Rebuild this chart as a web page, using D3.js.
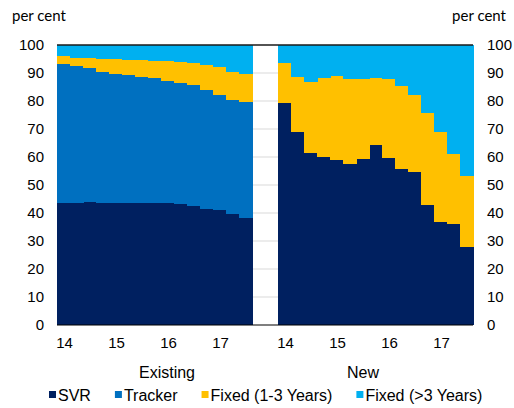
<!DOCTYPE html>
<html>
<head>
<meta charset="utf-8">
<script src="https://cdn.jsdelivr.net/npm/d3@7"></script>
<style>
  body { margin: 0; background: #fff; }
  svg { display: block; }
  .tick-lbl { font-family: "Liberation Sans", Arial, sans-serif; font-size: 15px; fill: #000; }
  .big-lbl { font-family: "Liberation Sans", Arial, sans-serif; font-size: 16px; fill: #000; }
  .unit { font-family: Lato, "Open Sans", sans-serif; font-size: 15px; fill: #000; }
</style>
</head>
<body>
<svg id="chart" width="514" height="408"></svg>
<script>
// quarters shown in each panel (Q1 2014 .. Q3 2017)
var quarters = ["14Q1","14Q2","14Q3","14Q4","15Q1","15Q2","15Q3","15Q4",
                "16Q1","16Q2","16Q3","16Q4","17Q1","17Q2","17Q3"];
var yearLabels = ["14","15","16","17"];
var panels = ["Existing","New"];
var seriesNames = ["SVR","Tracker","Fixed (1-3 Years)","Fixed (>3 Years)"];
var colors = ["#002060","#0070C0","#FFC000","#00B0F0"];
var yTicks = [0,10,20,30,40,50,60,70,80,90,100];

// existing mortgages, per cent of stock
var existingSVR     = [43.7,43.7,44.1,43.7,43.7,43.7,43.7,43.7,43.4,43.3,42.5,41.4,41.0,39.6,38.2];
var existingTracker = [49.5,48.7,47.7,46.8,45.9,45.5,44.9,44.4,43.9,43.1,43.2,42.6,41.1,40.8,41.3];
var existingFix13   = [2.9,3.1,3.4,4.4,5.3,5.6,6.0,6.3,6.9,7.7,7.9,9.0,10.2,10.0,10.1];
var existingFix3    = [3.9,4.5,4.8,5.1,5.1,5.2,5.4,5.6,5.8,5.9,6.4,7.0,7.7,9.6,10.4];

// new mortgages
var newSVR     = [79.4,68.8,61.5,60.1,58.8,57.4,59.2,64.3,59.8,55.6,54.5,42.9,36.7,35.9,27.7];
var newTracker = [0,0,0,0,0,0,0,0,0,0,0,0,0,0,0];
var newFix13   = [14.3,19.8,25.3,28.0,30.2,30.3,28.5,23.8,27.9,29.8,27.6,32.9,32.1,25.2,25.6];
var newFix3    = [6.3,11.4,13.2,11.9,11.0,12.3,12.3,11.9,12.3,14.6,17.9,24.2,31.2,38.9,46.7];

// build the table: existing quarters, two empty slots, new quarters
var rows = [];
quarters.forEach(function(q, i){
  rows.push({id: "E" + q, q: q, SVR: existingSVR[i], Tracker: existingTracker[i],
             "Fixed (1-3 Years)": existingFix13[i], "Fixed (>3 Years)": existingFix3[i]});
});
rows.push({id: "gap1", gap: true});
rows.push({id: "gap2", gap: true});
quarters.forEach(function(q, i){
  rows.push({id: "N" + q, q: q, SVR: newSVR[i], Tracker: newTracker[i],
             "Fixed (1-3 Years)": newFix13[i], "Fixed (>3 Years)": newFix3[i]});
});

var svg = d3.select("#chart");

var x = d3.scaleBand()
    .domain(rows.map(function(d){ return d.id; }))
    .range([57, 473])
    .padding(0);

var y = d3.scaleLinear().domain([0, 100]).range([325, 45]);

// gridlines
svg.append("g").selectAll("line")
    .data(yTicks.filter(function(t){ return t > 0 && t < 100; }))
    .enter().append("line")
    .attr("x1", x.range()[0]).attr("x2", x.range()[1])
    .attr("y1", function(d){ return y(d); }).attr("y2", function(d){ return y(d); })
    .attr("stroke", "#d9d9d9").attr("stroke-width", 1);

var stacked = d3.stack().keys(seriesNames)
    .value(function(d, k){ return d.gap ? 0 : d[k]; })(rows);

var layers = svg.append("g").selectAll("g")
    .data(stacked)
    .enter().append("g")
    .attr("fill", function(d, i){ return colors[i]; });

layers.selectAll("rect")
    .data(function(d){ return d.filter(function(p){ return !p.data.gap && p[1] > p[0]; }); })
    .enter().append("rect")
    .attr("x", function(d){ return x(d.data.id); })
    .attr("width", x.bandwidth() + 0.5)
    .attr("y", function(d){ return y(d[1]); })
    .attr("height", function(d){ return y(d[0]) - y(d[1]); })
    .attr("shape-rendering", "crispEdges");

// top and bottom lines
svg.append("line")
    .attr("x1", x.range()[0]).attr("x2", x.range()[1])
    .attr("y1", y(100)).attr("y2", y(100))
    .attr("stroke", "#1a1a1a").attr("stroke-width", 1.5);
svg.append("line")
    .attr("x1", x.range()[0]).attr("x2", x.range()[1])
    .attr("y1", y(0)).attr("y2", y(0))
    .attr("stroke", "#000").attr("stroke-width", 1.2);

// y labels both sides
var yl = svg.append("g");
yl.selectAll(".yl").data(yTicks).enter().append("text")
    .attr("class", "tick-lbl")
    .attr("x", 44).attr("y", function(d){ return y(d); })
    .attr("dy", "0.35em").attr("text-anchor", "end")
    .text(function(d){ return d; });
yl.selectAll(".yr").data(yTicks).enter().append("text")
    .attr("class", "tick-lbl")
    .attr("x", 487).attr("y", function(d){ return y(d); })
    .attr("dy", "0.35em").attr("text-anchor", "start")
    .text(function(d){ return d; });

svg.append("text").attr("class", "unit").attr("x", 12).attr("y", 21).text("per cent");
svg.append("text").attr("class", "unit").attr("x", 506).attr("y", 21)
    .attr("text-anchor", "end").text("per cent");

// year labels at Q1 of each year
["E", "N"].forEach(function(p){
  yearLabels.forEach(function(yr){
    var id = p + yr + "Q1";
    svg.append("text").attr("class", "tick-lbl")
        .attr("x", x(id) + x.bandwidth() / 2 + 1).attr("y", 348)
        .attr("text-anchor", "middle").text(yr);
  });
});

// panel names
svg.append("text").attr("class", "big-lbl").attr("x", 167).attr("y", 378)
    .attr("text-anchor", "middle").text(panels[0]);
svg.append("text").attr("class", "big-lbl").attr("x", 363).attr("y", 378)
    .attr("text-anchor", "middle").text(panels[1]);

// legend
var lg = svg.append("g");
var lx = 49;
seriesNames.forEach(function(name, i){
  lg.append("rect").attr("x", lx).attr("y", 391).attr("width", 7).attr("height", 7)
      .attr("fill", colors[i]);
  var t = lg.append("text").attr("class", "big-lbl")
      .attr("x", lx + 9).attr("y", 401).text(name);
  lx += 9 + t.node().getComputedTextLength() + 24;
});
</script>
</body>
</html>
